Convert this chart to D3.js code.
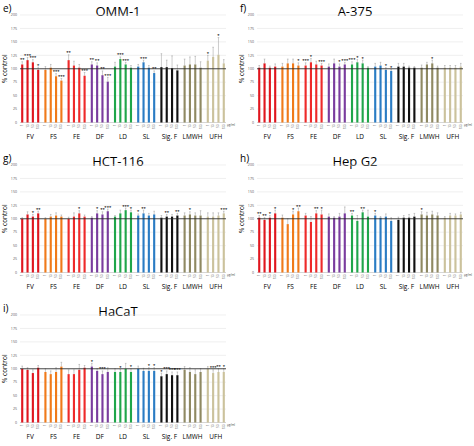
<!DOCTYPE html><html><head><meta charset="utf-8"><script src="https://cdn.jsdelivr.net/npm/d3@7"></script>
<style>body{margin:0;background:#fff}text{font-family:"Open Sans",Arial,sans-serif}</style></head><body><svg id="c" width="474" height="446"></svg><script>
const groups=["FV","FS","FE","DF","LD","SL","Sig. F","LMWH","UFH"];
const concs=["1","10","50","100"];
const colors=["#e0161e","#f07a1a","#ee2a2a","#7a3c9e","#1fa64a","#2a7cc4","#111111","#8f8962","#cbc29c"];
const yTicks=[0,25,50,75,100,125,150,175,200];
const panelLabels=["e)","f)","g)","h)","i)"];
const titles=["OMM-1","A-375","HCT-116","Hep G2","HaCaT"];
const values=[
[[108,116,112,98],[98,102,86,78],[116,106,102,87],[108,106,88,76],[104,118,108,102],[104,112,102,92],[103,103,101,97],[106,108,108,102],[115,122,126,110]],
[[102,110,102,104],[104,110,110,106],[106,112,108,106],[104,110,104,108],[108,112,110,102],[104,106,98,96],[104,104,102,102],[102,108,110,102],[102,102,102,104]],
[[100,108,104,110],[100,104,106,104],[100,104,110,104],[102,110,108,114],[104,110,116,112],[106,110,106,108],[102,104,104,106],[106,108,106,106],[104,104,106,110]],
[[102,98,102,110],[102,90,108,114],[106,94,110,108],[104,102,104,110],[106,96,112,104],[106,102,104,96],[98,102,102,104],[108,106,108,106],[102,106,106,108]],
[[100,98,92,102],[94,90,94,104],[90,90,98,102],[104,96,90,94],[94,94,100,94],[100,96,96,96],[86,90,88,88],[98,94,90,94],[100,92,94,94]]];
const errors=[
[[5,5,5,5],[6,6,5,4],[10,8,6,6],[5,5,8,8],[8,4,4,4],[4,4,4,4],[25,13,23,10],[12,14,15,11],[10,18,32,7]],
[[4,8,3,5],[6,8,8,5],[5,7,6,4],[5,8,5,4],[5,5,6,2],[6,6,4,3],[6,6,3,2],[5,4,6,3],[4,4,4,6]],
[[2,5,4,4],[2,4,5,3],[3,7,5,3],[2,5,5,4],[2,6,4,4],[3,6,4,6],[4,4,4,4],[5,5,5,9],[7,7,5,4]],
[[4,4,4,6],[5,10,6,6],[4,10,5,8],[5,2,6,12],[4,10,4,12],[4,2,5,6],[5,4,6,6],[5,6,6,5],[2,4,3,4]],
[[5,4,6,4],[6,6,8,8],[8,8,10,4],[6,4,6,8],[6,5,10,6],[5,5,6,6],[6,6,6,6],[6,8,8,6],[4,6,6,6]]];
const stars=[
[["**","***","***","*"],["","","***","***"],["**","","","***"],["**","**","**","***"],["","***","***",""],["","***","","**"],["","","",""],["","","",""],["*","","*",""]],
[["","","",""],["","","","*"],["***","*","","***"],["","","*","***"],["***","*","*",""],["","","*","*"],["","","",""],["","","*",""],["","","",""]],
[["","","*","**"],["","","",""],["","","*",""],["","*","**","***"],["","","***","*"],["*","**","",""],["","**","","**"],["","*","",""],["","","","***"]],
[["**","**","*","*"],["","","*","**"],["","","**","*"],["","","",""],["**","","**",""],["*","","",""],["","","",""],["*","","",""],["","","",""]],
[["","","",""],["","","",""],["","","",""],["*","","***",""],["","*","","*"],["","","*","*"],["*","***","***","***"],["","","",""],["","***","**","*"]]];
const origins=[[0,0],[237,0],[0,150],[237,150],[0,300]];
const svg=d3.select("#c");
origins.forEach((o,p)=>{
 const g=svg.append("g").attr("transform",`translate(${o[0]},${o[1]})`);
 const y=d3.scaleLinear().domain([0,200]).range([122.5,15]);
 const x0=d3.scaleBand().domain(groups).range([20,226]).paddingInner(0.22).paddingOuter(0.05);
 const x1=d3.scaleBand().domain(concs).range([0,x0.bandwidth()]).paddingInner(0.6);
 g.append("text").attr("x",3).attr("y",12).attr("font-size",10).text(panelLabels[p]);
 g.append("text").attr("x",118).attr("y",16).attr("text-anchor","middle").attr("font-size",13).text(titles[p]);
 yTicks.forEach(t=>{g.append("line").attr("x1",20).attr("x2",226).attr("y1",y(t)).attr("y2",y(t)).attr("stroke",t===0?"#bbb":"#e6e6e6").attr("stroke-width",0.6);
  g.append("text").attr("x",17).attr("y",y(t)+1.2).attr("text-anchor","end").attr("font-size",3.6).attr("fill","#555").text(t);});
 g.append("text").attr("transform",`translate(7,${y(100)}) rotate(-90)`).attr("text-anchor","middle").attr("font-size",6.5).text("% control");
 groups.forEach((gr,i)=>{
  concs.forEach((c,j)=>{
   const v=values[p][i][j],e=errors[p][i][j],cx=x0(gr)+x1(c);
   g.append("rect").attr("x",cx).attr("y",y(v)).attr("width",x1.bandwidth()).attr("height",y(0)-y(v)).attr("fill",colors[i]);
   const m=cx+x1.bandwidth()/2;
   g.append("line").attr("x1",m).attr("x2",m).attr("y1",y(v)).attr("y2",y(v+e)).attr("stroke","#999").attr("stroke-width",0.5);
   g.append("line").attr("x1",m-0.8).attr("x2",m+0.8).attr("y1",y(v+e)).attr("y2",y(v+e)).attr("stroke","#999").attr("stroke-width",0.5);
   if(stars[p][i][j]) g.append("text").attr("x",m).attr("y",y(v+e)-0.5).attr("text-anchor","middle").attr("font-size",4.2).attr("font-weight","bold").text(stars[p][i][j]);
   g.append("text").attr("transform",`translate(${m+1},${y(0)+2}) rotate(-90)`).attr("text-anchor","end").attr("font-size",2.8).attr("fill","#444").text(c);
  });
  g.append("text").attr("x",x0(gr)+x0.bandwidth()/2).attr("y",139).attr("text-anchor","middle").attr("font-size",6.5).text(gr);
 });
 g.append("line").attr("x1",20).attr("x2",226).attr("y1",y(100)).attr("y2",y(100)).attr("stroke","#222").attr("stroke-width",0.8);
 g.append("text").attr("x",227).attr("y",y(0)+3).attr("font-size",3).attr("fill","#444").text("μg/ml");
});
</script></body></html>
